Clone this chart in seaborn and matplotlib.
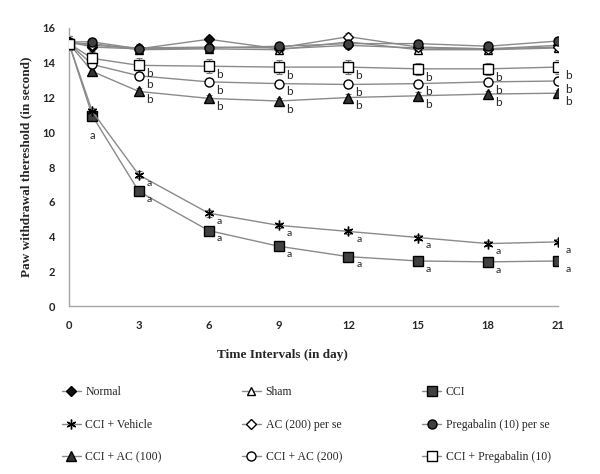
import pandas as pd
import seaborn as sns
import numpy as np
import matplotlib.pyplot as plt

# days of observation
days = [0, 1, 3, 6, 9, 12, 15, 18, 21]

# paw withdrawal threshold (s)
normal = [15.2, 14.9, 14.8, 15.35, 14.8, 15.0, 14.85, 14.8, 15.0]
sham = [15.1, 15.1, 14.75, 14.8, 14.75, 15.2, 14.75, 14.75, 14.85]
cci = [15.1, 10.95, 6.6, 4.35, 3.45, 2.85, 2.6, 2.55, 2.6]
cci_vehicle = [15.1, 11.2, 7.55, 5.35, 4.65, 4.3, 3.95, 3.6, 3.7]
ac200_perse = [15.2, 15.0, 14.85, 14.9, 14.85, 15.5, 14.9, 14.8, 14.9]
preg_perse = [15.2, 15.2, 14.8, 14.85, 14.95, 15.1, 15.1, 14.95, 15.25]
cci_ac100 = [15.1, 13.5, 12.35, 11.95, 11.8, 12.0, 12.1, 12.2, 12.25]
cci_ac200 = [15.1, 13.9, 13.25, 12.9, 12.8, 12.75, 12.8, 12.9, 12.95]
cci_preg = [15.1, 14.25, 13.85, 13.8, 13.75, 13.75, 13.65, 13.65, 13.75]

# error bars (SEM)
err_top = [0.35, 0.2, 0.2, 0.2, 0.2, 0.2, 0.2, 0.2, 0.2]
err_cci = [0.2, 0.2, 0.2, 0.2, 0.15, 0.15, 0.15, 0.15, 0.15]
err_ac = [0.2, 0.2, 0.2, 0.2, 0.2, 0.2, 0.2, 0.2, 0.2]
err_preg = [0.35, 0.35, 0.4, 0.4, 0.4, 0.4, 0.35, 0.35, 0.4]

# (label, values, err, marker, face colour, size, significance letter)
groups = [
    ("Normal", normal, err_top, "D", "#111111", 5, None),
    ("Sham", sham, err_top, "^", "white", 6, None),
    ("CCI", cci, err_cci, "s", "#404040", 6.5, "a"),
    ("CCI + Vehicle", cci_vehicle, err_cci, (6, 2, 0), "black", 7, "a"),
    ("AC (200) per se", ac200_perse, err_top, "D", "white", 5, None),
    ("Pregabalin (10) per se", preg_perse, err_top, "o", "#404040", 6.5, None),
    ("CCI + AC (100)", cci_ac100, err_ac, "^", "#333333", 6.5, "b"),
    ("CCI + AC (200)", cci_ac200, err_ac, "o", "white", 6.5, "b"),
    ("CCI + Pregabalin (10)", cci_preg, err_preg, "s", "white", 7, "b"),
]

sns.set_style("white")
fig, ax = plt.subplots(figsize=(6, 4.74), dpi=100)
fig.subplots_adjust(left=0.115, right=0.93, bottom=0.354, top=0.941)

line_col = "#8a8a8a"
for name, vals, err, mk, fc, ms, letter in groups:
    ax.errorbar(days, vals, yerr=err, fmt="none", ecolor="#777777",
                elinewidth=0.8, capsize=2.5, capthick=0.8, zorder=2)
    sns.lineplot(x=days, y=vals, ax=ax, color=line_col, linewidth=1,
                 marker=mk, markersize=ms, markerfacecolor=fc,
                 markeredgecolor="black", markeredgewidth=1,
                 label=name, zorder=3)
    if letter is None:
        continue
    for d, v in zip(days, vals):
        if d == 0:
            continue
        if letter == "a" and d == 1:
            if name == "CCI":
                ax.annotate("a", (d, v), xytext=(0, -14), textcoords="offset points",
                            ha="center", va="center", fontsize=8, family="Lato")
            continue
        if letter == "b" and d == 1:
            continue
        ax.annotate(letter, (d, v), xytext=(7.5, -6), textcoords="offset points",
                    ha="center", va="center", fontsize=8.5 if letter == "b" else 7.5,
                    family="Lato")

ax.set_xlim(0, 21)
ax.set_ylim(0, 16)
ax.set_xticks(range(0, 22, 3))
ax.set_yticks(range(0, 17, 2))
for lab in ax.get_xticklabels() + ax.get_yticklabels():
    lab.set_family("Lato")
    lab.set_fontweight("bold")
    lab.set_fontsize(8)
ax.tick_params(axis="both", length=0, pad=10)
sns.despine(ax=ax)
for s in ["left", "bottom"]:
    ax.spines[s].set_color("#a6a6a6")
    ax.spines[s].set_linewidth(1)

ax.set_xlabel("Time Intervals (in day)", family="Liberation Serif",
              fontweight="bold", fontsize=9.5)
ax.xaxis.set_label_coords(0.436, -0.155)
ax.set_ylabel("Paw withdrawal thereshold (in second)", family="Liberation Serif",
              fontweight="bold", fontsize=9.5)
ax.yaxis.set_label_coords(-0.075, 0.5)

handles, labels = ax.get_legend_handles_labels()
ax.get_legend().remove()
order = [0, 3, 6, 1, 4, 7, 2, 5, 8]
fig.legend([handles[i] for i in order], [labels[i] for i in order],
           ncol=3, loc="upper left", bbox_to_anchor=(0.085, 0.208),
           frameon=False, prop={"family": "Liberation Serif", "size": 8.5},
           handlelength=1.6, handletextpad=0.4, columnspacing=6.8,
           labelspacing=1.75)

plt.savefig("out.png", dpi=100)
